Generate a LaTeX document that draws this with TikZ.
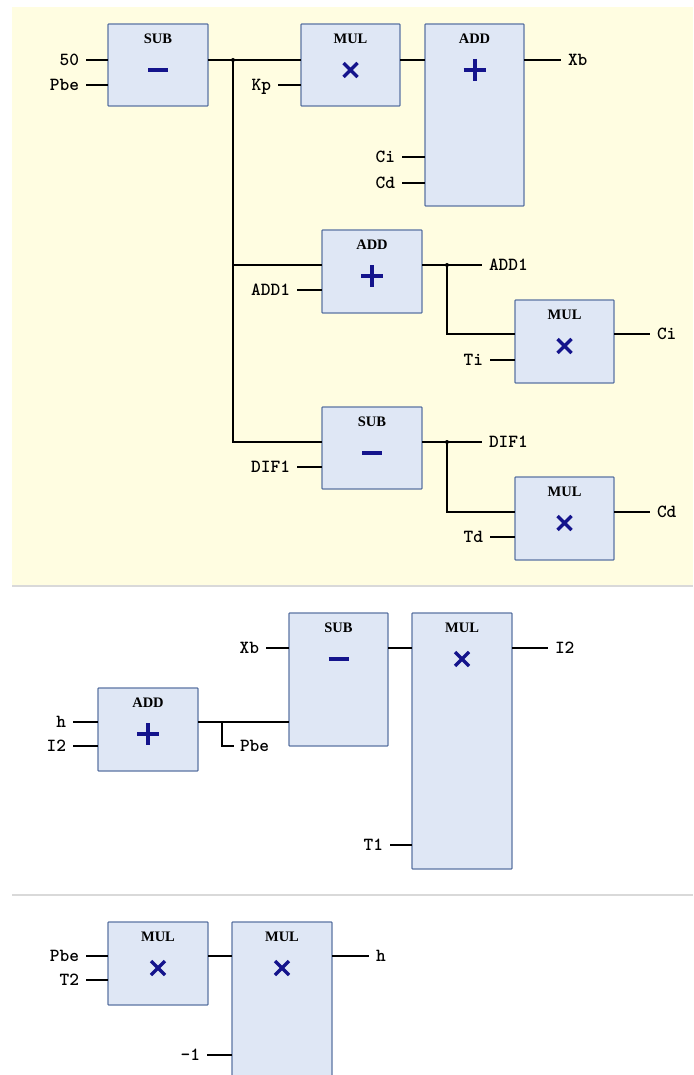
\documentclass[tikz,border=0pt]{standalone}
\usepackage{fontspec}
\setmainfont{Liberation Serif}
\usetikzlibrary{calc}
\definecolor{bgyellow}{HTML}{FFFDE1}
\definecolor{blkfill}{HTML}{DFE7F5}
\definecolor{blkdraw}{HTML}{5B74A3}
\definecolor{opcol}{HTML}{14148C}
\definecolor{sepgrey}{HTML}{D9D9D9}
\tikzset{
 blk/.style={draw=blkdraw, fill=blkfill, line width=1.3pt, inner sep=0pt, outer sep=0pt, anchor=north west, rounded corners=0.8pt},
 ttl/.style={font=\fontsize{14.5}{16}\selectfont\bfseries, inner sep=0pt},
 lbl/.style={font=\ttfamily\bfseries\fontsize{18.5}{20}\selectfont, inner xsep=7pt, inner ysep=0pt, outer sep=0pt, text height=10.5pt, text depth=0pt},
 inl/.style={lbl, anchor=east},
 outl/.style={lbl, anchor=west},
 wire/.style={line width=1.3pt, black},
 op/.style={line width=4pt, opcol},
 jdot/.style={circle, fill=black, inner sep=0pt, minimum size=4pt},
 opminus/.pic={\draw[op] (-10,0) -- (10,0);},
 opplus/.pic={\draw[op] (-11,0) -- (11,0) (0,-11) -- (0,11);},
 optimes/.pic={\draw[op, line width=3.4pt] (-7,-7) -- (7,7) (-7,7) -- (7,-7);},
}
\newcommand\fblk[7]{%
 \node[blk, minimum width=#4pt, minimum height=#5pt] (#1) at (#2,#3) {};
 \node[ttl] (#1t) at ($(#1.north)+(0,15)$) {#6};
 \pic at ($(#1.north)+(0,46)$) {#7};
}
\begin{document}
\begin{tikzpicture}[x=1pt,y=-1pt]
\useasboundingbox (0,0) rectangle (693,1075);
\clip (0,0) rectangle (693,1075);
\fill[white] (0,0) rectangle (693,1075);
\fill[bgyellow] (12,7) rectangle (693,585);
\draw[sepgrey, line width=2pt] (12,586) -- (693,586);
\draw[sepgrey, line width=2pt] (12,895) -- (693,895);

% ---------- section 1
\fblk{sub1}{108}{24}{100}{82}{SUB}{opminus}
\fblk{mul1}{301}{24}{99}{82}{MUL}{optimes}
\fblk{add1}{425}{24}{99}{182}{ADD}{opplus}
\fblk{add2}{322}{230}{100}{83}{ADD}{opplus}
\fblk{mul2}{515}{300}{99}{83}{MUL}{optimes}
\fblk{sub2}{322}{407}{100}{82}{SUB}{opminus}
\fblk{mul3}{515}{477}{99}{83}{MUL}{optimes}

\node[inl] (i50) at (86,60) {50};
\node[inl] (ipbe1) at (86,85) {Pbe};
\node[inl] (ikp) at (278,85) {Kp};
\node[inl] (ici1) at (402,157) {Ci};
\node[inl] (icd1) at (402,183) {Cd};
\node[outl] (oxb) at (561,60) {Xb};
\node[inl] (iadd1) at (297,290) {ADD1};
\node[outl] (oadd1) at (482,265) {ADD1};
\node[inl] (iti) at (490,360) {Ti};
\node[outl] (oci) at (650,334) {Ci};
\node[inl] (idif1) at (297,467) {DIF1};
\node[outl] (odif1) at (482,442) {DIF1};
\node[inl] (itd) at (490,537) {Td};
\node[outl] (ocd) at (650,512) {Cd};

\coordinate (j1) at (233,60);
\coordinate (j2) at (447,265);
\coordinate (j3) at (447,442);

\draw[wire] (i50.east) -- (i50 -| sub1.west);
\draw[wire] (ipbe1.east) -- (ipbe1 -| sub1.west);
\draw[wire] (sub1.east |- j1) -- (mul1.west |- j1);
\draw[wire] (ikp.east) -- (ikp -| mul1.west);
\draw[wire] (mul1.east |- j1) -- (add1.west |- j1);
\draw[wire] (add1.east |- j1) -- (oxb.west);
\draw[wire] (ici1.east) -- (ici1 -| add1.west);
\draw[wire] (icd1.east) -- (icd1 -| add1.west);
\draw[wire] (j1) -- (j1 |- odif1) -- (sub2.west |- odif1);
\draw[wire] (j1 |- oadd1) -- (add2.west |- oadd1);
\draw[wire] (iadd1.east) -- (iadd1 -| add2.west);
\draw[wire] (add2.east |- oadd1) -- (oadd1.west);
\draw[wire] (j2) -- (j2 |- oci) -- (mul2.west |- oci);
\draw[wire] (iti.east) -- (iti -| mul2.west);
\draw[wire] (mul2.east |- oci) -- (oci.west);
\draw[wire] (idif1.east) -- (idif1 -| sub2.west);
\draw[wire] (sub2.east |- odif1) -- (odif1.west);
\draw[wire] (j3) -- (j3 |- ocd) -- (mul3.west |- ocd);
\draw[wire] (itd.east) -- (itd -| mul3.west);
\draw[wire] (mul3.east |- ocd) -- (ocd.west);
\node[jdot] (d1) at (j1) {};
\node[jdot] (d2) at (j2) {};
\node[jdot] (d3) at (j3) {};

% ---------- section 2
\fblk{add3}{98}{688}{100}{83}{ADD}{opplus}
\fblk{sub3}{289}{613}{99}{133}{SUB}{opminus}
\fblk{mul4}{412}{613}{100}{256}{MUL}{optimes}
\node[inl] (ih) at (73,722) {h};
\node[inl] (ii2) at (73,746) {I2};
\node[inl] (ixb) at (266,648) {Xb};
\node[inl] (it1) at (390,845) {T1};
\node[outl] (oi2) at (548,648) {I2};
\node[outl, inner xsep=6pt] (opbe) at (234,746) {Pbe};
\coordinate (j4) at (222,722);
\draw[wire] (ih.east) -- (ih -| add3.west);
\draw[wire] (ii2.east) -- (ii2 -| add3.west);
\draw[wire] (add3.east |- ih) -- (sub3.west |- ih);
\draw[wire] (j4) -- (j4 |- opbe) -- (opbe.west);
\draw[wire] (ixb.east) -- (ixb -| sub3.west);
\draw[wire] (sub3.east |- ixb) -- (mul4.west |- ixb);
\draw[wire] (mul4.east |- ixb) -- (oi2.west);
\draw[wire] (it1.east) -- (it1 -| mul4.west);

% ---------- section 3
\fblk{mul5}{108}{922}{100}{83}{MUL}{optimes}
\fblk{mul6}{232}{922}{100}{200}{MUL}{optimes}
\node[inl] (ipbe3) at (86,956) {Pbe};
\node[inl] (it2) at (86,980) {T2};
\node[inl] (im1) at (207,1055) {-1};
\node[outl] (oh) at (369,956) {h};
\draw[wire] (ipbe3.east) -- (ipbe3 -| mul5.west);
\draw[wire] (it2.east) -- (it2 -| mul5.west);
\draw[wire] (mul5.east |- ipbe3) -- (mul6.west |- ipbe3);
\draw[wire] (mul6.east |- ipbe3) -- (oh.west);
\draw[wire] (im1.east) -- (im1 -| mul6.west);
\end{tikzpicture}
\end{document}
